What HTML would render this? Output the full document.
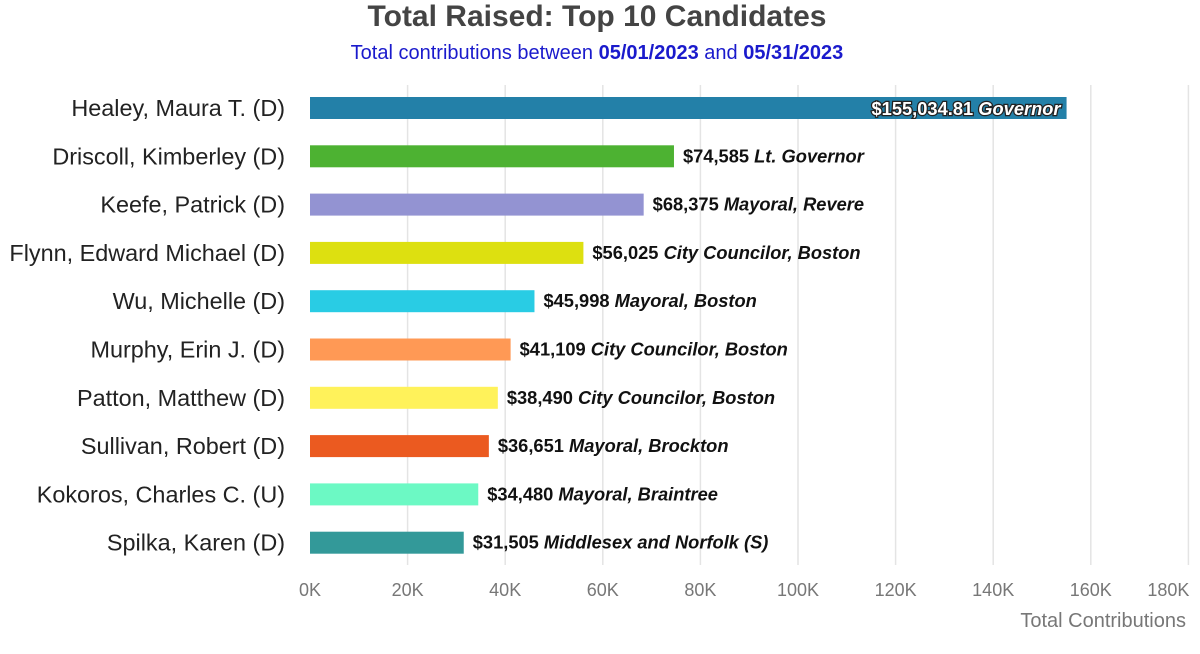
<!DOCTYPE html>
<html><head><meta charset="utf-8"><style>
body{margin:0;background:#fff;font-family:"Liberation Sans",Arial,sans-serif}
</style></head><body>
<svg id="c" width="1200" height="649" xmlns="http://www.w3.org/2000/svg">
<text x="597" y="26" text-anchor="middle" font-size="30" font-weight="bold" fill="#444">Total Raised: Top 10 Candidates</text>
<text x="597" y="59" text-anchor="middle" font-size="20" fill="#1a1acc">Total contributions between <tspan font-weight="bold">05/01/2023</tspan> and <tspan font-weight="bold">05/31/2023</tspan></text>
<g id="grid"></g><g id="bars"></g>
<text x="1186" y="627" text-anchor="end" font-size="20" fill="#777">Total Contributions</text>
</svg>
<script>
const names=["Healey, Maura T. (D)","Driscoll, Kimberley (D)","Keefe, Patrick (D)","Flynn, Edward Michael (D)","Wu, Michelle (D)","Murphy, Erin J. (D)","Patton, Matthew (D)","Sullivan, Robert (D)","Kokoros, Charles C. (U)","Spilka, Karen (D)"];
const values=[155034.81,74585,68375,56025,45998,41109,38490,36651,34480,31505];
const valueLabels=["$155,034.81","$74,585","$68,375","$56,025","$45,998","$41,109","$38,490","$36,651","$34,480","$31,505"];
const offices=["Governor","Lt. Governor","Mayoral, Revere","City Councilor, Boston","Mayoral, Boston","City Councilor, Boston","City Councilor, Boston","Mayoral, Brockton","Mayoral, Braintree","Middlesex and Norfolk (S)"];
const colors=["#2380a8","#4db232","#9393d2","#dde010","#29cce4","#ff9955","#fff25a","#eb5a20","#6cf9c4","#339999"];
const ticks=[0,20000,40000,60000,80000,100000,120000,140000,160000,180000];
const tickLabels=["0K","20K","40K","60K","80K","100K","120K","140K","160K","180K"];
const NS="http://www.w3.org/2000/svg";
const x=v=>310+v*4.88/1000;
const y=i=>108+i*48.3;
function mk(t,a,p,txt){const e=document.createElementNS(NS,t);for(const k in a)e.setAttribute(k,a[k]);if(txt!==undefined)e.textContent=txt;p.appendChild(e);return e;}
const G=document.getElementById('grid'),B=document.getElementById('bars');
ticks.forEach((t,i)=>{
 if(i>0){const l=mk('line',{x1:x(t),x2:x(t),y1:85,y2:565,stroke:'#e4e4e4','stroke-width':1.5},G);
 
 }
 const lb=mk('text',{x:i==9?x(t)-20:x(t),y:596,'text-anchor':'middle','font-size':18,fill:'#777'},G,tickLabels[i]);
 
 
});
names.forEach((n,i)=>{
 const cy=y(i);
 const nl=mk('text',{x:285,y:cy+8,'text-anchor':'end','font-size':23.4,fill:'#222'},B,n);
 
 
 const r=mk('rect',{x:310,y:cy-11,width:x(values[i])-310,height:22,fill:colors[i]},B);
 
 
 let t;
 if(i===0){
  t=mk('text',{x:x(values[i])-6,y:cy+7,'text-anchor':'end','font-size':18.3,'font-weight':'bold',fill:'#fff',stroke:'#222','stroke-width':2.5,'paint-order':'stroke'},B);
 }else{
  t=mk('text',{x:x(values[i])+9,y:cy+6,'font-size':18.3,'font-weight':'bold',fill:'#111'},B);
 }
 mk('tspan',{},t,valueLabels[i]+' ');
 mk('tspan',{'font-style':'italic'},t,offices[i]);
 
 
});
</script>
</body></html>
